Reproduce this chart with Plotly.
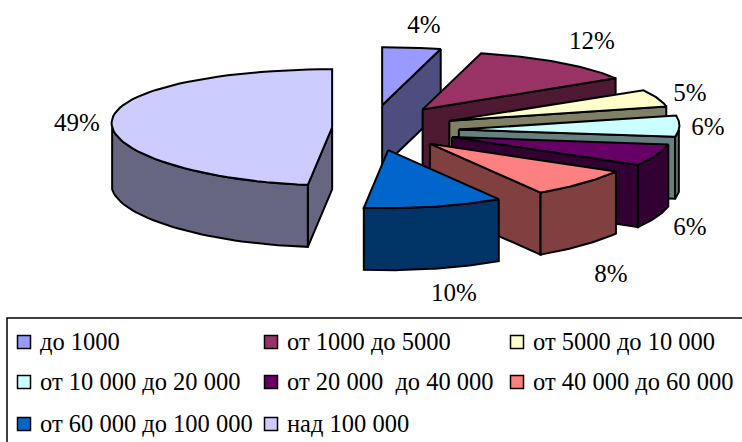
import numpy as np
import plotly.graph_objects as go

categories = ["до 1000", "от 1000 до 5000", "от 5000 до 10 000",
              "от 10 000 до 20 000", "от 20 000  до 40 000", "от 40 000 до 60 000",
              "от 60 000 до 100 000", "над 100 000"]
shares = [4.0, 12.0, 5.0, 6.0, 6.0, 8.0, 10.9, 48.1]
value_labels = ["4%", "12%", "5%", "6%", "6%", "8%", "10%", "49%"]
explode = [1, 1, 1, 1, 1, 0.93, 0.9, 0.53]
nudge_x = [-3, 0, 0, 3, 0, 0, -3, 0]
nudge_y = [0, 0, 2, 3, 2, 1, 2, 0]
top_colors = ["#9999FF", "#993366", "#FFFFCC", "#CCFFFF", "#660066", "#FF8080", "#0066CC", "#CCCCFF"]
wall_colors = ["#4D4D80", "#4D1933", "#808066", "#668080", "#330033", "#804040", "#003366", "#666680"]
label_xy = [(424, 27), (592, 43), (690, 95), (708, 129), (690, 229), (611, 276), (454, 295), (77, 125)]
legend_marker_x = [24, 271, 517]
legend_text_x = [40, 287, 533]
legend_row_y = [342, 382, 424]
legend_text_y = [344, 384, 426]

CX, CY, EX, EY = 375, 128, 81, 23
RY, DEPTH = 58, 62
SERIF = "'Liberation Serif', 'Times New Roman', Times, serif"


def rim(theta_deg, ax, ay, drop=0):
    t = np.radians(theta_deg)
    rx = 220 + 16 * np.cos(t)
    return ax + rx * np.sin(t), ay - RY * np.cos(t) + drop


fig = go.Figure()


def poly(xs, ys, color):
    xs, ys = list(xs), list(ys)
    fig.add_trace(go.Scatter(x=xs + xs[:1], y=ys + ys[:1], mode="lines", fill="toself",
                             fillcolor=color, line=dict(color="black", width=2),
                             hoverinfo="skip", showlegend=False))


cum = np.concatenate([[0], np.cumsum(shares)]) / np.sum(shares) * 360
for i in range(len(shares)):
    a0, a1 = cum[i], cum[i + 1]
    mid = np.radians((a0 + a1) / 2)
    ax = CX + EX * explode[i] * np.sin(mid) + nudge_x[i]
    ay = CY - EY * explode[i] * np.cos(mid) + nudge_y[i]
    if a1 < 180:
        x, y = rim(a1, ax, ay)
        poly([ax, x, x, ax], [ay, y, y + DEPTH, ay + DEPTH], wall_colors[i])
    if a0 > 180:
        x, y = rim(a0, ax, ay)
        poly([ax, x, x, ax], [ay, y, y + DEPTH, ay + DEPTH], wall_colors[i])
    w0, w1 = max(a0, 90), min(a1, 270)
    if w1 > w0:
        th = np.linspace(w0, w1, 40)
        xt, yt = rim(th, ax, ay)
        xb, yb = rim(th[::-1], ax, ay, DEPTH)
        poly(np.r_[xt, xb], np.r_[yt, yb], wall_colors[i])
    th = np.linspace(a0, a1, 60)
    xt, yt = rim(th, ax, ay)
    poly(np.r_[ax, xt], np.r_[ay, yt], top_colors[i])

fig.add_trace(go.Scatter(x=[p[0] for p in label_xy], y=[p[1] for p in label_xy], mode="text",
                         text=value_labels,
                         textfont=dict(family=SERIF, size=25, color="black"),
                         textposition="middle center", hoverinfo="skip", showlegend=False))

for i, name in enumerate(categories):
    r, c = divmod(i, 3)
    fig.add_trace(go.Scatter(x=[legend_marker_x[c]], y=[legend_row_y[r]], mode="markers",
                             marker=dict(symbol="square", size=13, color=top_colors[i],
                                         line=dict(color="black", width=1.5)),
                             hoverinfo="skip", showlegend=False))
    fig.add_trace(go.Scatter(x=[legend_text_x[c]], y=[legend_text_y[r]], mode="text", text=[name],
                             textposition="middle right", cliponaxis=False,
                             textfont=dict(family=SERIF, size=24.5, color="black"),
                             hoverinfo="skip", showlegend=False))

fig.add_shape(type="rect", x0=7, y0=318, x1=760, y1=460, line=dict(color="black", width=1.5),
              fillcolor="rgba(0,0,0,0)", layer="below")

fig.update_layout(width=742, height=442, margin=dict(l=0, r=0, t=0, b=0),
                  font=dict(family=SERIF),
                  paper_bgcolor="white", plot_bgcolor="white", showlegend=False,
                  xaxis=dict(range=[0, 742], visible=False, fixedrange=True),
                  yaxis=dict(range=[442, 0], visible=False, fixedrange=True))
fig.write_html("out.html", config=dict(displayModeBar=False),
               post_script="document.body.style.margin='0';document.documentElement.style.overflow='hidden';")
